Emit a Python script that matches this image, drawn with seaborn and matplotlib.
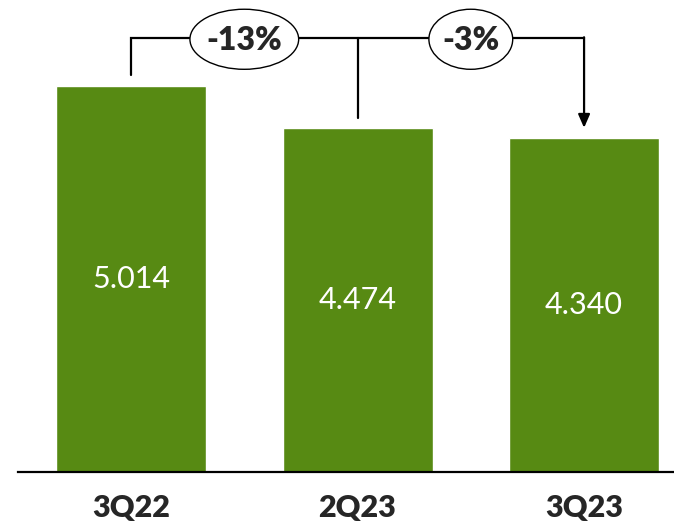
import matplotlib
matplotlib.use("Agg")
import matplotlib.pyplot as plt
import seaborn as sns
from matplotlib.patches import Ellipse

quarters = ["3Q22", "2Q23", "3Q23"]
values = [5.014, 4.474, 4.340]
value_labels = ["5.014", "4.474", "4.340"]
change_labels = ["-13%", "-3%"]

sns.set_style("white")
plt.rcParams['font.family'] = ['Lato', 'DejaVu Sans']

fig = plt.figure(figsize=(6.74, 5.28), dpi=100)
ax = fig.add_axes([18/674, 56/528, 656/674, 472/528])

bar_color = "#578A13"
sns.barplot(x=quarters, y=values, color=bar_color, saturation=1, width=0.662, ax=ax)

ax.set_xlim(-0.499, 2.397)
ax.set_ylim(0, 6.13)

for s in ["top", "right", "left"]:
    ax.spines[s].set_visible(False)
ax.spines["bottom"].set_linewidth(1.6)
ax.spines["bottom"].set_color("black")
ax.set_yticks([])
ax.set_xlabel("")
ax.set_ylabel("")
ax.tick_params(axis="x", length=0, pad=16)
for lbl in ax.get_xticklabels():
    lbl.set_fontsize(22)
    lbl.set_fontweight("heavy")

for i, (v, t) in enumerate(zip(values, value_labels)):
    ax.text(i, v / 2, t, ha="center", va="center", color="white", fontsize=22)

# connectors
top_y = 5.636
lw = 1.6
ax.plot([0, 0, 2], [values[0] + 0.14, top_y, top_y], color="black", lw=lw,
        solid_joinstyle="miter", zorder=3)
ax.plot([1, 1], [top_y, values[1] + 0.12], color="black", lw=lw, zorder=3)
ax.annotate("", xy=(2, values[2] + 0.13), xytext=(2, top_y + 0.01),
            arrowprops=dict(arrowstyle="-|>,head_length=0.8,head_width=0.35",
                            color="black", lw=lw, shrinkA=0, shrinkB=0), zorder=3)

ell_specs = [(0.5, 0.48), (1.5, 0.37)]
for (cx, w), lab in zip(ell_specs, change_labels):
    e = Ellipse((cx, 5.62), w, 0.78, facecolor="white", edgecolor="black", lw=1.0, zorder=4)
    ax.add_patch(e)
    ax.text(cx, 5.60, lab, ha="center", va="center", fontsize=23, fontweight="heavy", zorder=5)

fig.savefig("out.png", dpi=100)
